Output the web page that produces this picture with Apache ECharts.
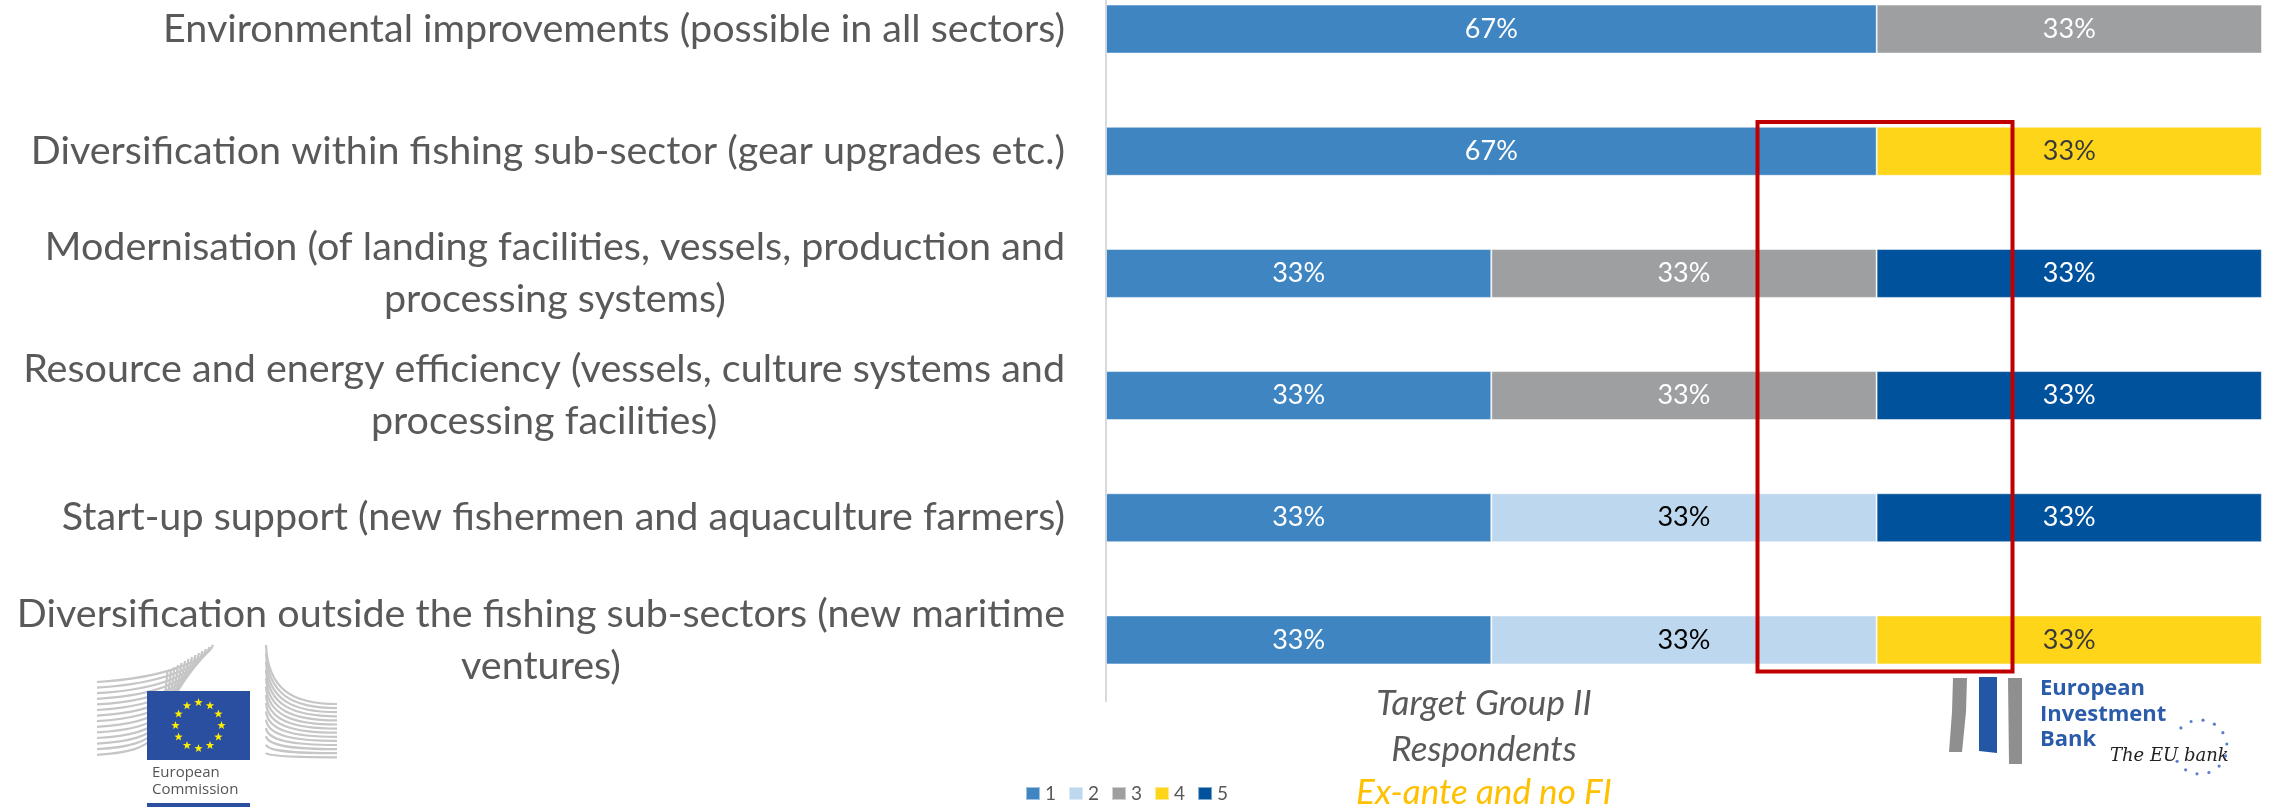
<!DOCTYPE html>
<html>
<head>
<meta charset="utf-8">
<script src="https://cdn.jsdelivr.net/npm/echarts@6/dist/echarts.min.js"></script>
<style>
  html, body { margin: 0; padding: 0; background: #fff; }
  #chart { width: 2272px; height: 807px; }
</style>
</head>
<body>
<div id="chart"></div>
<script>
// categories, top to bottom (line breaks as in the slide)
const categories = [
  'Environmental improvements (possible in all sectors)',
  'Diversification within fishing sub-sector (gear upgrades etc.)',
  'Modernisation (of landing facilities, vessels, production and\nprocessing systems)',
  'Resource and energy efficiency (vessels, culture systems and\nprocessing facilities)',
  'Start-up support (new fishermen and aquaculture farmers)',
  'Diversification outside the fishing sub-sectors (new maritime\nventures)'
];
const legendNames = ['1', '2', '3', '4', '5'];
// share of respondents per score (%)
const score1 = [66.67, 66.67, 33.33, 33.33, 33.33, 33.33];
const score2 = [null, null, null, null, 33.33, 33.33];
const score3 = [33.33, null, 33.33, 33.33, null, null];
const score4 = [null, 33.33, null, null, null, 33.33];
const score5 = [null, null, 33.33, 33.33, 33.33, null];
const noteLines = ['Target Group II', 'Respondents', 'Ex-ante and no FI'];

const colors = ['#3F85C2', '#BDD7EE', '#9E9FA1', '#FFD519', '#00529C'];
const labelColors = ['#ffffff', '#000000', '#ffffff', '#3a3a3a', '#ffffff'];
const allScores = [score1, score2, score3, score4, score5];

var myChart = echarts.init(document.getElementById('chart'));

const series = allScores.map(function (d, i) {
  return {
    name: legendNames[i],
    type: 'bar',
    stack: 'total',
    barWidth: 49,
    data: d,
    itemStyle: { color: colors[i], borderColor: 'rgba(255,255,255,0.5)', borderWidth: 1 },
    label: {
      show: true,
      position: 'inside',
      color: labelColors[i],
      fontFamily: 'Lato',
      fontSize: 27,
      formatter: function (p) { return Math.round(p.value) + '%'; }
    }
  };
});

// 5-point star as polygon points
function starPoints(cx, cy, r, r0) {
  const pts = [];
  for (let j = 0; j < 10; j++) {
    const rr = j % 2 ? r0 : r;
    const a = -Math.PI / 2 + j * Math.PI / 5;
    pts.push([cx + rr * Math.cos(a), cy + rr * Math.sin(a)]);
  }
  return pts;
}

// logo decorations (not data)
const deco = [];
// EC building, left wing
for (let i = 0; i < 14; i++) {
  const y0 = 682 + 5.6 * i;
  deco.push({
    type: 'bezierCurve',
    shape: { x1: 97, y1: y0, cpx1: 165, cpy1: y0 - 4, cpx2: 207 - 3.5 * i, cpy2: y0 - 22, x2: 213 - 3.5 * i, y2: 645 + 2 * i },
    style: { stroke: '#c6c6c6', lineWidth: 2.2, fill: null }
  });
}
// EC building, right wing
for (let i = 0; i < 14; i++) {
  const ys = 645 + 8.3 * i, ye = 704 + 4.1 * i;
  deco.push({
    type: 'bezierCurve',
    shape: { x1: 266, y1: ys, cpx1: 268, cpy1: ys + (ye - ys) * 0.75, cpx2: 292, cpy2: ye, x2: 337, y2: ye },
    style: { stroke: '#c6c6c6', lineWidth: 2.2, fill: null }
  });
}
deco.push({ type: 'rect', shape: { x: 147, y: 691, width: 103, height: 69 }, style: { fill: '#2A4FA1' } });
for (let k = 0; k < 12; k++) {
  const a = k * Math.PI / 6;
  deco.push({
    type: 'polygon',
    shape: { points: starPoints(198.5 + 23 * Math.cos(a), 725.5 + 23 * Math.sin(a), 4.4, 1.8) },
    style: { fill: '#FFED00' }
  });
}
deco.push({ type: 'text', x: 152, y: 773, style: { text: 'European', fill: '#555', font: '15px "Open Sans"', textVerticalAlign: 'middle' } });
deco.push({ type: 'text', x: 152, y: 790, style: { text: 'Commission', fill: '#555', font: '15px "Open Sans"', textVerticalAlign: 'middle' } });
deco.push({ type: 'rect', shape: { x: 147, y: 803, width: 103, height: 4 }, style: { fill: '#2A4FA1' } });
// EIB logo
deco.push({ type: 'polygon', shape: { points: [[1953, 678], [1967, 678], [1966, 712], [1962, 752], [1949, 752], [1952, 712]] }, style: { fill: '#8f8f8f' } });
deco.push({ type: 'polygon', shape: { points: [[1979, 677], [1997, 677], [1997, 753], [1979, 751]] }, style: { fill: '#2456A6' } });
deco.push({ type: 'polygon', shape: { points: [[2008, 678], [2022, 678], [2022, 764], [2009, 764]] }, style: { fill: '#8f8f8f' } });
['European', 'Investment', 'Bank'].forEach(function (t, i) {
  deco.push({ type: 'text', x: 2040, y: 689 + 25.5 * i, style: { text: t, fill: '#2A5CAA', font: 'bold 22px "Open Sans"', textVerticalAlign: 'middle' } });
});
deco.push({ type: 'text', x: 2110, y: 756, style: { text: 'The EU bank', fill: '#222', font: 'italic 18px "DejaVu Serif"', textVerticalAlign: 'middle' } });
for (let k = 0; k < 12; k++) {
  const a = -Math.PI * 0.75 + k * Math.PI / 7;
  deco.push({ type: 'circle', shape: { cx: 2200 + 27 * Math.cos(a), cy: 747 + 27 * Math.sin(a), r: 1.6 }, style: { fill: '#5b7fc9' } });
}

const option = {
  backgroundColor: '#ffffff',
  animation: false,
  color: colors,
  grid: { left: 1106, right: 10, top: -32, height: 733, outerBoundsMode: 'none', containLabel: false },
  legend: {
    data: legendNames,
    left: 1020,
    top: 779,
    icon: 'rect',
    itemWidth: 14,
    itemHeight: 13,
    itemGap: 12,
    textStyle: { color: '#595959', fontSize: 19, fontFamily: 'Lato' }
  },
  xAxis: {
    type: 'value',
    min: 0,
    max: 100,
    show: false
  },
  yAxis: {
    type: 'category',
    inverse: true,
    data: categories,
    axisLine: { show: true, lineStyle: { color: '#d9d9d9', width: 2 } },
    axisTick: { show: false },
    axisLabel: {
      margin: 41,
      formatter: function (v) {
        return v.split('\n').map(function (s) { return '{c|' + s + '}'; }).join('\n');
      },
      rich: {
        c: { align: 'center', fontFamily: 'Lato', fontSize: 39.5, lineHeight: 52, color: '#595959' }
      }
    }
  },
  series: series,
  graphic: deco.concat([
    {
      type: 'rect', z: 100,
      shape: { x: 1757.5, y: 122, width: 255, height: 549.5 },
      style: { fill: null, stroke: '#C00000', lineWidth: 4 }
    },
    { type: 'text', x: 1484, y: 704, style: { text: noteLines[0], fill: '#595959', font: 'italic 35px Lato', textAlign: 'center', textVerticalAlign: 'middle' } },
    { type: 'text', x: 1484, y: 750, style: { text: noteLines[1], fill: '#595959', font: 'italic 35px Lato', textAlign: 'center', textVerticalAlign: 'middle' } },
    { type: 'text', x: 1484, y: 793, style: { text: noteLines[2], fill: '#FFC000', font: 'italic 35px Lato', textAlign: 'center', textVerticalAlign: 'middle' } }
  ])
};

myChart.setOption(option);
</script>
</body>
</html>
